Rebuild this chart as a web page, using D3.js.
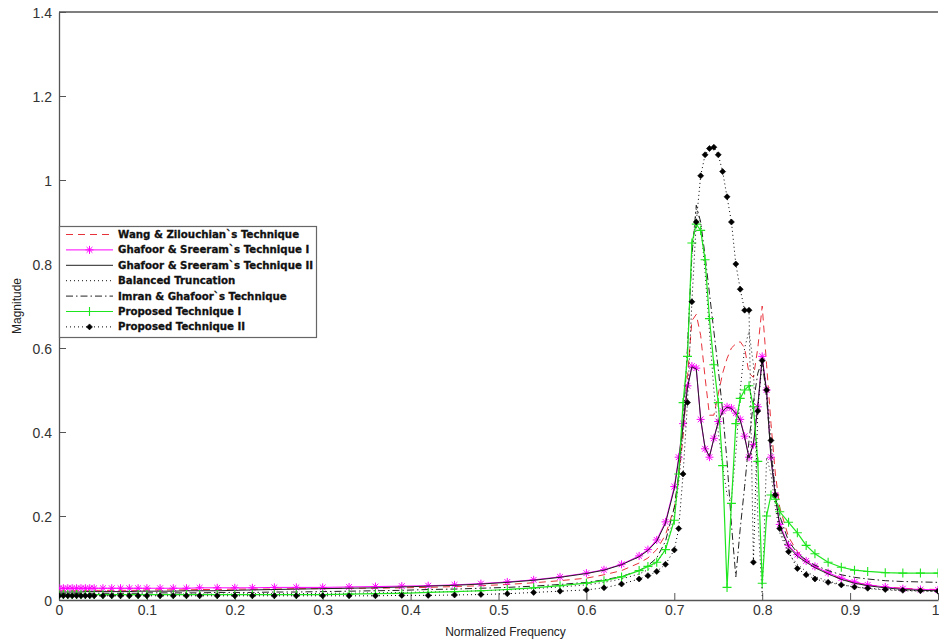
<!DOCTYPE html>
<html>
<head>
<meta charset="utf-8">
<script src="https://cdn.jsdelivr.net/npm/d3@7"></script>
<style>
  html, body { margin: 0; padding: 0; background: #fff; }
  svg { display: block; }
</style>
</head>
<body>
<svg id="chart" width="939" height="642"></svg>
<script>
// Normalized frequency grid shared by every response
const freq = [
  0, 0.005, 0.01, 0.015, 0.02, 0.025, 0.03, 0.035, 0.04, 0.05,
  0.06, 0.07, 0.08, 0.09, 0.1, 0.115, 0.13, 0.145, 0.16, 0.18,
  0.2, 0.22, 0.245, 0.27, 0.3, 0.33, 0.36, 0.39, 0.42, 0.45,
  0.48, 0.51, 0.54, 0.57, 0.6, 0.62, 0.64, 0.66, 0.67, 0.68,
  0.69, 0.70, 0.705, 0.71, 0.715, 0.72, 0.725, 0.73, 0.735, 0.74,
  0.745, 0.75, 0.755, 0.76, 0.765, 0.77, 0.775, 0.78, 0.785, 0.79,
  0.795, 0.80, 0.805, 0.81, 0.815, 0.82, 0.83, 0.84, 0.85, 0.86,
  0.875, 0.89, 0.905, 0.92, 0.94, 0.96, 0.98, 1.0
];

// Magnitude responses, one value per frequency above
const wangZilouchian = [
  0.022, 0.022, 0.022, 0.022, 0.022, 0.022, 0.022, 0.022, 0.023, 0.023,
  0.023, 0.023, 0.023, 0.023, 0.024, 0.024, 0.024, 0.024, 0.025, 0.025,
  0.026, 0.026, 0.026, 0.027, 0.027, 0.028, 0.028, 0.029, 0.030, 0.032,
  0.034, 0.037, 0.041, 0.046, 0.052, 0.060, 0.070, 0.088, 0.100, 0.120,
  0.155, 0.220, 0.290, 0.390, 0.530, 0.665, 0.680, 0.630, 0.530, 0.440,
  0.440, 0.490, 0.540, 0.575, 0.600, 0.610, 0.615, 0.600, 0.540, 0.530,
  0.600, 0.700, 0.560, 0.420, 0.300, 0.220, 0.150, 0.115, 0.095, 0.080,
  0.063, 0.050, 0.042, 0.036, 0.031, 0.028, 0.026, 0.025
];
const ghafoorSreeramI = [
  0.028, 0.028, 0.028, 0.028, 0.028, 0.028, 0.028, 0.028, 0.028, 0.028,
  0.028, 0.028, 0.028, 0.028, 0.028, 0.028, 0.028, 0.028, 0.029, 0.029,
  0.029, 0.029, 0.030, 0.030, 0.030, 0.031, 0.032, 0.033, 0.034, 0.036,
  0.039, 0.043, 0.048, 0.055, 0.064, 0.072, 0.085, 0.105, 0.120, 0.143,
  0.186, 0.270, 0.340, 0.420, 0.510, 0.557, 0.552, 0.430, 0.360, 0.340,
  0.385, 0.425, 0.450, 0.460, 0.457, 0.445, 0.430, 0.390, 0.340, 0.370,
  0.460, 0.580, 0.500, 0.340, 0.250, 0.180, 0.130, 0.108, 0.093, 0.080,
  0.065, 0.052, 0.043, 0.036, 0.031, 0.027, 0.025, 0.024
];
const ghafoorSreeramII = [
  0.019, 0.019, 0.019, 0.019, 0.019, 0.019, 0.020, 0.020, 0.020, 0.020,
  0.020, 0.020, 0.020, 0.021, 0.021, 0.021, 0.021, 0.022, 0.022, 0.022,
  0.023, 0.024, 0.025, 0.026, 0.027, 0.028, 0.029, 0.031, 0.033, 0.035,
  0.038, 0.042, 0.047, 0.054, 0.063, 0.071, 0.084, 0.103, 0.118, 0.140,
  0.183, 0.265, 0.335, 0.415, 0.505, 0.555, 0.550, 0.432, 0.362, 0.342,
  0.384, 0.424, 0.449, 0.459, 0.456, 0.444, 0.428, 0.388, 0.338, 0.372,
  0.462, 0.575, 0.495, 0.335, 0.245, 0.175, 0.127, 0.104, 0.090, 0.077,
  0.062, 0.049, 0.040, 0.034, 0.029, 0.025, 0.023, 0.022
];
const balancedTruncation = [
  0.013, 0.013, 0.013, 0.013, 0.013, 0.013, 0.013, 0.013, 0.013, 0.013,
  0.013, 0.013, 0.013, 0.013, 0.013, 0.013, 0.014, 0.014, 0.014, 0.014,
  0.014, 0.015, 0.015, 0.015, 0.016, 0.016, 0.017, 0.018, 0.019, 0.020,
  0.022, 0.024, 0.027, 0.031, 0.036, 0.042, 0.050, 0.062, 0.072, 0.090,
  0.120, 0.200, 0.280, 0.400, 0.600, 0.820, 0.930, 0.900, 0.780, 0.640,
  0.500, 0.400, 0.320, 0.250, 0.240, 0.350, 0.500, 0.600, 0.640, 0.560,
  0.200, 0.010, 0.340, 0.300, 0.220, 0.160, 0.110, 0.085, 0.068, 0.056,
  0.045, 0.037, 0.031, 0.027, 0.024, 0.022, 0.021, 0.020
];
const imranGhafoor = [
  0.016, 0.016, 0.016, 0.016, 0.016, 0.016, 0.016, 0.016, 0.016, 0.016,
  0.016, 0.016, 0.016, 0.016, 0.017, 0.017, 0.017, 0.017, 0.017, 0.018,
  0.018, 0.018, 0.019, 0.019, 0.020, 0.021, 0.022, 0.023, 0.025, 0.026,
  0.028, 0.030, 0.033, 0.037, 0.042, 0.048, 0.056, 0.070, 0.082, 0.100,
  0.140, 0.220, 0.300, 0.420, 0.600, 0.820, 0.940, 0.900, 0.820, 0.730,
  0.640, 0.550, 0.450, 0.330, 0.180, 0.055, 0.170, 0.270, 0.380, 0.470,
  0.540, 0.570, 0.480, 0.350, 0.260, 0.200, 0.140, 0.112, 0.095, 0.083,
  0.070, 0.060, 0.054, 0.050, 0.046, 0.044, 0.043, 0.042
];
const proposedI = [
  0.013, 0.013, 0.013, 0.013, 0.013, 0.013, 0.013, 0.013, 0.013, 0.013,
  0.013, 0.013, 0.013, 0.013, 0.013, 0.013, 0.013, 0.013, 0.013, 0.013,
  0.013, 0.013, 0.013, 0.013, 0.013, 0.014, 0.015, 0.016, 0.018, 0.020,
  0.022, 0.025, 0.029, 0.034, 0.040, 0.046, 0.055, 0.070, 0.080, 0.090,
  0.120, 0.190, 0.300, 0.470, 0.580, 0.850, 0.895, 0.880, 0.810, 0.670,
  0.560, 0.470, 0.320, 0.030, 0.230, 0.420, 0.480, 0.500, 0.510, 0.460,
  0.330, 0.040, 0.200, 0.250, 0.240, 0.210, 0.185, 0.160, 0.130, 0.110,
  0.090, 0.078, 0.071, 0.068, 0.065, 0.064, 0.064, 0.064
];
const proposedII = [
  0.010, 0.010, 0.010, 0.010, 0.010, 0.010, 0.010, 0.010, 0.010, 0.010,
  0.010, 0.010, 0.010, 0.010, 0.010, 0.010, 0.010, 0.010, 0.010, 0.010,
  0.010, 0.010, 0.010, 0.010, 0.010, 0.010, 0.010, 0.011, 0.011, 0.012,
  0.013, 0.015, 0.018, 0.021, 0.024, 0.029, 0.038, 0.050, 0.058, 0.068,
  0.085, 0.119, 0.170, 0.300, 0.470, 0.710, 0.900, 1.010, 1.060, 1.075,
  1.078, 1.060, 1.020, 0.960, 0.900, 0.800, 0.740, 0.690, 0.690, 0.090,
  0.450, 0.570, 0.500, 0.380, 0.250, 0.170, 0.115, 0.075, 0.060, 0.050,
  0.042, 0.036, 0.031, 0.028, 0.025, 0.023, 0.022, 0.021
];

const seriesNames = [
  "Wang & Zilouchian`s Technique",
  "Ghafoor & Sreeram`s Technique I",
  "Ghafoor & Sreeram`s Technique II",
  "Balanced Truncation",
  "Imran & Ghafoor`s Technique",
  "Proposed Technique I",
  "Proposed Technique II"
];
const seriesValues = [
  wangZilouchian, ghafoorSreeramI, ghafoorSreeramII, balancedTruncation,
  imranGhafoor, proposedI, proposedII
];

const xTicks = [0, 0.1, 0.2, 0.3, 0.4, 0.5, 0.6, 0.7, 0.8, 0.9, 1];
const yTicks = [0, 0.2, 0.4, 0.6, 0.8, 1, 1.2, 1.4];

// Line and marker styles per series
const styles = [
  { color: "#e8323a", dash: "7,5", width: 1, marker: null },
  { color: "#ff00ff", dash: null, width: 1, marker: "star" },
  { color: "#222222", dash: null, width: 1, marker: null },
  { color: "#111111", dash: "1,3", width: 1, marker: null },
  { color: "#222222", dash: "7,3,1.5,3", width: 1, marker: null },
  { color: "#1ee61e", dash: null, width: 1.2, marker: "plus" },
  { color: "#000000", dash: "1,3", width: 1, marker: "diamond" }
];

const margin = { left: 59, right: 938, top: 12, bottom: 600 };
const svg = d3.select("#chart");

const x = d3.scaleLinear().domain([0, 1]).range([margin.left, margin.right]);
const y = d3.scaleLinear().domain([0, 1.4]).range([margin.bottom, margin.top]);

svg.append("defs").append("clipPath").attr("id", "plotClip")
  .append("rect")
  .attr("x", margin.left).attr("y", margin.top - 2)
  .attr("width", margin.right - margin.left).attr("height", margin.bottom - margin.top + 2);

// Axes frame
const axisColor = "#555";
const fontFam = "'Liberation Sans', Arial, sans-serif";

const xAxis = svg.append("g")
  .attr("transform", `translate(0,${margin.bottom})`)
  .call(d3.axisBottom(x).tickValues(xTicks).tickSizeInner(-7).tickSizeOuter(0)
    .tickFormat(d => d3.format("")(d)).tickPadding(5));
const yAxis = svg.append("g")
  .attr("transform", `translate(${margin.left},0)`)
  .call(d3.axisLeft(y).tickValues(yTicks).tickSizeInner(-7).tickSizeOuter(0)
    .tickFormat(d => d3.format("")(d)).tickPadding(7));

[xAxis, yAxis].forEach(g => {
  g.select(".domain").attr("stroke", axisColor).attr("stroke-width", 1.3);
  g.selectAll(".tick line").attr("stroke", axisColor).attr("stroke-width", 1);
  g.selectAll(".tick text")
    .attr("fill", "#333").style("font-family", fontFam).style("font-size", "14px");
});
yAxis.selectAll(".tick text").attr("dy", "0.36em");
xAxis.selectAll(".tick text").attr("dy", "0.71em");
// the last frequency label sits against the right edge
xAxis.selectAll(".tick text").filter(d => d === 1)
  .attr("text-anchor", "end").attr("x", 1);

// top border
svg.append("line")
  .attr("x1", margin.left).attr("x2", margin.right)
  .attr("y1", margin.top).attr("y2", margin.top)
  .attr("stroke", axisColor).attr("stroke-width", 1.3);

// axis titles
svg.append("text")
  .attr("x", (margin.left + margin.right) / 2 + 7).attr("y", 636)
  .attr("text-anchor", "middle")
  .style("font-family", fontFam).style("font-size", "12px").attr("fill", "#222")
  .text("Normalized Frequency");
svg.append("text")
  .attr("transform", `translate(21,${(margin.top + margin.bottom) / 2}) rotate(-90)`)
  .attr("text-anchor", "middle")
  .style("font-family", fontFam).style("font-size", "12px").attr("fill", "#222")
  .text("Magnitude");

// marker shapes
function drawMarker(g, type, cx, cy, color) {
  if (type === "star") {
    const r = 4;
    const r2 = r * 0.72;
    g.append("path")
      .attr("d", `M${cx - r},${cy}H${cx + r}M${cx},${cy - r}V${cy + r}` +
        `M${cx - r2},${cy - r2}L${cx + r2},${cy + r2}M${cx - r2},${cy + r2}L${cx + r2},${cy - r2}`)
      .attr("stroke", color).attr("stroke-width", 1).attr("fill", "none");
  } else if (type === "plus") {
    const r = 4.5;
    g.append("path")
      .attr("d", `M${cx - r},${cy}H${cx + r}M${cx},${cy - r}V${cy + r}`)
      .attr("stroke", color).attr("stroke-width", 1.1).attr("fill", "none");
  } else if (type === "diamond") {
    const r = 3;
    g.append("path")
      .attr("d", `M${cx},${cy - r}L${cx + r},${cy}L${cx},${cy + r}L${cx - r},${cy}Z`)
      .attr("fill", color).attr("stroke", color).attr("stroke-width", 0.6);
  }
}

const plot = svg.append("g").attr("clip-path", "url(#plotClip)");
const line = d3.line().x((d, i) => x(freq[i])).y(d => y(d));

seriesValues.forEach((vals, k) => {
  const st = styles[k];
  const g = plot.append("g");
  g.append("path")
    .datum(vals)
    .attr("d", line)
    .attr("fill", "none")
    .attr("stroke", st.color)
    .attr("stroke-width", st.width)
    .attr("stroke-dasharray", st.dash);
  if (st.marker) {
    vals.forEach((v, i) => drawMarker(g, st.marker, x(freq[i]), y(v), st.color));
  }
});

// legend
const legend = svg.append("g");
const lgX = 59, lgY = 226, lgW = 257, lgH = 111;
legend.append("rect")
  .attr("x", lgX + 0.5).attr("y", lgY + 0.5).attr("width", lgW).attr("height", lgH)
  .attr("fill", "#fff").attr("stroke", "#666").attr("stroke-width", 1.2);
seriesNames.forEach((name, k) => {
  const st = styles[k];
  const cy = 234.5 + k * 15.4;
  const g = legend.append("g");
  g.append("line")
    .attr("x1", 66).attr("x2", 113).attr("y1", cy).attr("y2", cy)
    .attr("stroke", st.color).attr("stroke-width", st.width)
    .attr("stroke-dasharray", st.dash);
  if (st.marker) drawMarker(g, st.marker, 89.5, cy, st.color);
  g.append("text")
    .attr("class", "lgtext")
    .attr("x", 118).attr("y", cy).attr("dy", "0.35em")
    .style("font-family", "'DejaVu Sans', Verdana, sans-serif")
    .style("font-weight", "bold").style("font-size", "10px")
    .attr("fill", "#111").attr("stroke", "#111").attr("stroke-width", 0.3)
    .text(name);
});
// fit legend labels to the box width
const widest = d3.max(legend.selectAll(".lgtext").nodes(), n => n.getComputedTextLength());
const fs = 10 * 195 / widest;
legend.selectAll(".lgtext").style("font-size", fs.toFixed(2) + "px");
</script>
</body>
</html>
